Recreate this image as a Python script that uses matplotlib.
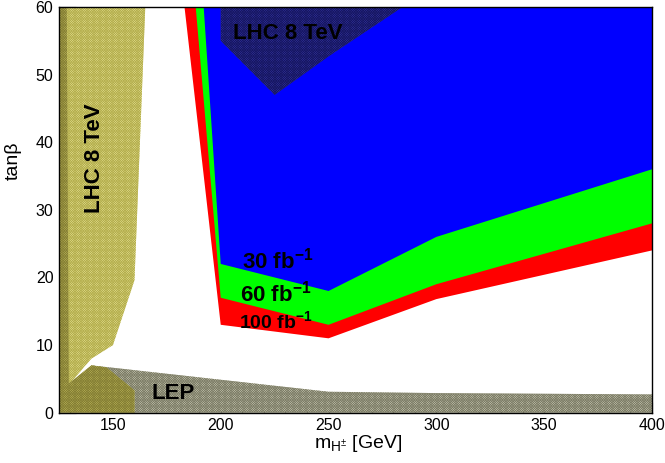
import matplotlib
matplotlib.use("Agg")
import matplotlib.pyplot as plt
from matplotlib.patches import Polygon
from matplotlib.ticker import MultipleLocator

plt.rcParams['font.family'] = ['Liberation Sans', 'DejaVu Sans']
plt.rcParams['mathtext.fontset'] = 'custom'
plt.rcParams['mathtext.rm'] = 'Liberation Sans'
plt.rcParams['mathtext.it'] = 'Liberation Sans:italic'
plt.rcParams['mathtext.bf'] = 'Liberation Sans:bold'
plt.rcParams['hatch.linewidth'] = 0.5

# ---- data (m_H+ [GeV], tan beta) ----
red_x = [183.2, 200, 250, 300, 400, 400]
red_y = [60, 13, 11, 16.8, 24, 60]
green_x = [188.4, 200, 250, 300, 400, 400]
green_y = [60, 17, 13, 19, 28, 60]
blue_x = [192.1, 200, 250, 300, 400, 400]
blue_y = [60, 22, 18, 26, 36, 60]
lhc_top_x = [200, 200, 225, 250, 284.3]
lhc_top_y = [60, 55, 47, 52.7, 60]
lhc_left_x = [125, 125, 165, 160, 150, 140, 130, 125]
lhc_left_y = [0, 60, 60, 19.6, 10, 8, 4.3, 4.3]
overlap_x = [125, 125, 128.6, 129.5, 140, 147, 160, 160]
overlap_y = [0, 60, 60, 4.3, 7, 6.7, 3.3, 0]
lep_x = [140, 250, 300, 400, 400, 140]
lep_y = [7, 3.1, 2.9, 2.7, 0, 0]
x_ticks = [150, 200, 250, 300, 350, 400]
y_ticks = [0, 10, 20, 30, 40, 50, 60]

fig = plt.figure(figsize=(6.65, 4.63), dpi=100)
ax = fig.add_axes([59/665, 1-412.7/463, (652-59)/665, (412.7-7)/463])
ax.set_xlim(125, 400)
ax.set_ylim(0, 60)

def poly(xs, ys, fc, hatch=None, ec='none', z=1):
    p = Polygon(list(zip(xs, ys)), closed=True, facecolor=fc, edgecolor=ec,
                hatch=hatch, linewidth=0, zorder=z)
    ax.add_patch(p)

poly(red_x, red_y, '#ff0000', z=1)
poly(green_x, green_y, '#00ff00', z=2)
poly(blue_x, blue_y, '#0000ff', z=3)
poly(lhc_top_x, lhc_top_y, '#30309c', hatch='x'*14, ec='#161660', z=4)
poly(lep_x, lep_y, '#c6c6b0', hatch='x'*14, ec='#7c7c66', z=4)
poly(lhc_left_x, lhc_left_y, '#e2de90', hatch='x'*14, ec='#b4ae4c', z=5)
poly(overlap_x, overlap_y, '#b8b256', hatch='x'*14, ec='#847e34', z=6)

fb = dict(fontweight='bold', color='black', zorder=10)
ax.text(205.6, 55.2, 'LHC 8 TeV', fontsize=16, ha='left', va='baseline', **fb)
ax.text(141.3, 37.7, 'LHC 8 TeV', fontsize=16, ha='center', va='center', rotation=90, **fb)
ax.text(167.9, 2.1, 'LEP', fontsize=16, ha='left', va='baseline', **fb)
ax.text(210.0, 21.3, r'30 fb$^{\mathbf{-1}}$', fontsize=16, ha='left', va='baseline', **fb)
ax.text(209.1, 16.5, r'60 fb$^{\mathbf{-1}}$', fontsize=16, ha='left', va='baseline', **fb)
ax.text(208.5, 12.5, r'100 fb$^{\mathbf{-1}}$', fontsize=14, ha='left', va='baseline', **fb)

ax.set_xticks(x_ticks)
ax.set_yticks(y_ticks)
ax.xaxis.set_minor_locator(MultipleLocator(10))
ax.yaxis.set_minor_locator(MultipleLocator(2))
ax.tick_params(axis='both', which='both', direction='in', top=False, right=False,
               labelsize=11.5, width=0.8, color='black')
ax.tick_params(axis='x', which='major', length=8, pad=3.5)
ax.tick_params(axis='x', which='minor', length=4)
ax.tick_params(axis='y', which='major', length=12, pad=4)
ax.tick_params(axis='y', which='minor', length=6)
for s in ax.spines.values():
    s.set_linewidth(1.0)
    s.set_zorder(20)
ax.set_axisbelow(False)

fig.text(314/665, 1-448.5/463, r'm$_{\mathregular{H^{\pm}}}$ [GeV]', fontsize=14,
         ha='left', va='baseline')
fig.text(13/665, 1-161/463, 'tanβ', fontsize=14, rotation=90, ha='center', va='center')

fig.savefig('out.png', dpi=100)
